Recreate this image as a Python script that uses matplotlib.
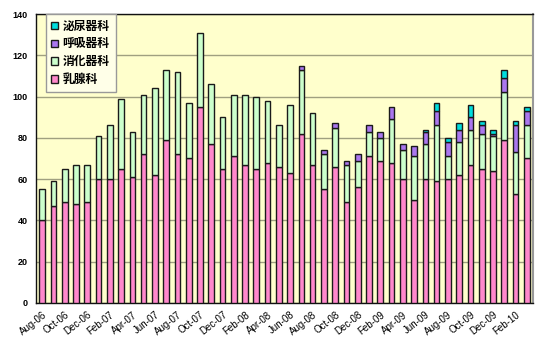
import matplotlib
matplotlib.use("Agg")
import matplotlib.pyplot as plt
import numpy as np

months = ["Aug-06","Sep-06","Oct-06","Nov-06","Dec-06","Jan-07","Feb-07","Mar-07","Apr-07","May-07",
          "Jun-07","Jul-07","Aug-07","Sep-07","Oct-07","Nov-07","Dec-07","Jan-08","Feb-08","Mar-08",
          "Apr-08","May-08","Jun-08","Jul-08","Aug-08","Sep-08","Oct-08","Nov-08","Dec-08","Jan-09",
          "Feb-09","Mar-09","Apr-09","May-09","Jun-09","Jul-09","Aug-09","Sep-09","Oct-09","Nov-09",
          "Dec-09","Jan-10","Feb-10","Mar-10"]

breast = [40,47,49,48,49,60,60,65,61,72, 62,79,72,70,95,77,65,71,67,65,
          68,66,63,82,67,55,66,49,56,71, 69,68,60,50,60,59,60,62,67,65,
          64,79,53,70]
digestive = [15,12,16,19,18,21,26,34,22,29, 42,34,40,27,36,29,25,30,34,35,
             30,20,33,31,25,17,19,18,13,12, 11,21,14,21,17,27,11,16,17,17,
             17,23,20,16]
respiratory = [0,0,0,0,0,0,0,0,0,0, 0,0,0,0,0,0,0,0,0,0,
               0,0,0,2,0,2,2,2,3,3, 3,6,3,5,6,7,7,6,6,4,
               1,7,13,7]
urology = [0,0,0,0,0,0,0,0,0,0, 0,0,0,0,0,0,0,0,0,0,
           0,0,0,0,0,0,0,0,0,0, 0,0,0,0,1,4,2,3,6,2,
           2,4,2,2]

labels = ["乳腺科", "消化器科", "呼吸器科", "泌尿器科"]
colors = ["#FF88CC", "#CCFFCC", "#AA77EE", "#00DDDD"]
yticks = [0, 20, 40, 60, 80, 100, 120, 140]

plt.rcParams['font.family'] = ['Noto Sans CJK JP', 'DejaVu Sans']

fig = plt.figure(figsize=(5.45, 3.53), dpi=100)
ax = fig.add_axes([0.066, 0.142, 0.912, 0.818])
ax.set_facecolor("#FFFFCC")

x = np.arange(len(months))
bottom = np.zeros(len(months))
handles = []
for vals, lab, col in zip([breast, digestive, respiratory, urology], labels, colors):
    v = np.array(vals, dtype=float)
    mask = v > 0
    b = ax.bar(x[mask], v[mask], bottom=bottom[mask], width=0.5, color=col,
               edgecolor="#1a1a1a", linewidth=1.0, label=lab, zorder=3)
    handles.append(b)
    bottom += v

ax.set_xlim(-0.55, len(months) - 0.45)
ax.set_ylim(0, 140)
ax.set_yticks(yticks)
ax.set_yticklabels([str(t) for t in yticks], fontsize=6.5, fontweight='bold',
                   family=['Liberation Sans'])
ax.yaxis.grid(True, color="#A0A080", linewidth=1, zorder=0)
ax.tick_params(axis='y', length=0, pad=6)

ax.set_xticks(x[::2])
ax.set_xticklabels(months[::2], rotation=38, ha='right', rotation_mode='anchor',
                   fontsize=7, family=['Liberation Sans'])
ax.set_xticks(x, minor=True)
ax.tick_params(axis='x', which='both', direction='in', length=2, pad=5, color="#888888")

for s in ["left", "bottom", "top"]:
    ax.spines[s].set_color("#111111")
    ax.spines[s].set_linewidth(1.0)
ax.spines["right"].set_color("#999999")
ax.spines["right"].set_linewidth(1.5)

leg = ax.legend(handles[::-1], labels[::-1], loc='upper left', bbox_to_anchor=(0.018, 1.003),
                fontsize=8.5, frameon=True, fancybox=False, handlelength=0.6, handleheight=0.6,
                handletextpad=0.35, borderpad=0.5, labelspacing=0.4, borderaxespad=0.05)
leg.get_frame().set_edgecolor("#999999")
leg.get_frame().set_facecolor("#FFFFE8")
leg.get_frame().set_alpha(1)
for t in leg.get_texts():
    t.set_fontweight('bold')

fig.savefig("out.png", dpi=100)
